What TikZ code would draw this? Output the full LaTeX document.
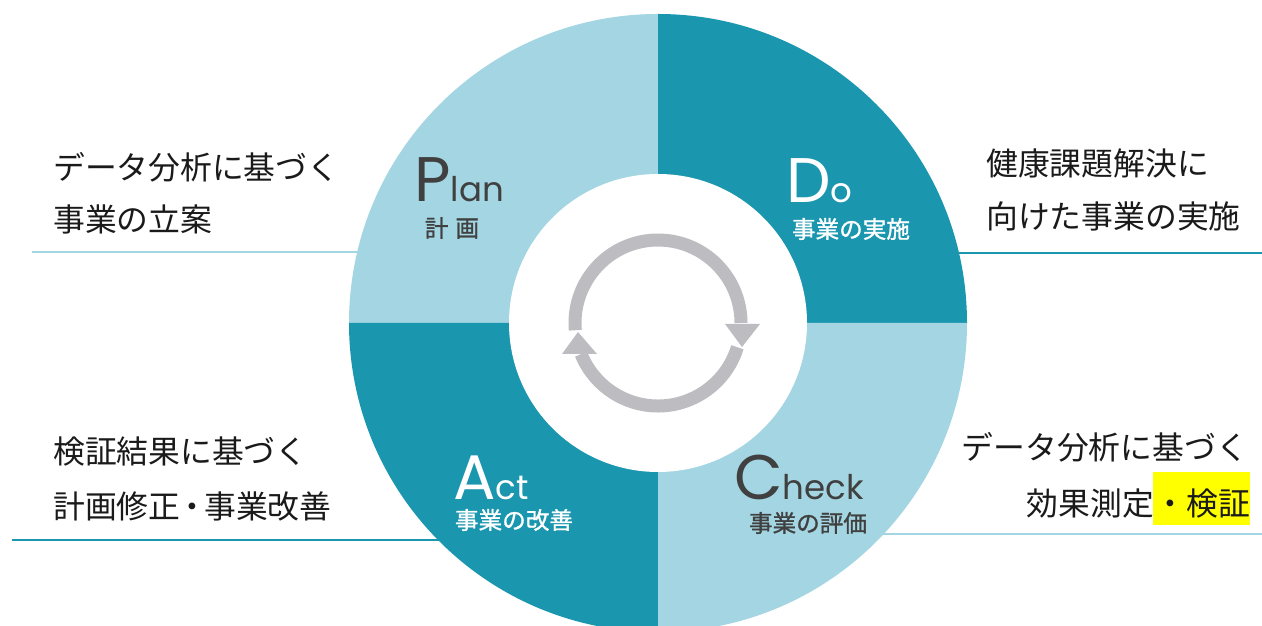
\documentclass[tikz,border=0pt]{standalone}
\usepackage{fontspec}
\newfontfamily\jp{Noto Sans CJK JP}
\newfontfamily\jpm[FakeBold=1.2]{Noto Sans CJK JP}
\newfontfamily\lat{Poppins}
\definecolor{lightring}{HTML}{A3D6E2}
\definecolor{darkring}{HTML}{1B96AF}
\definecolor{cyclegray}{HTML}{BDBCC1}
\definecolor{labelgray}{HTML}{404040}
\definecolor{outertext}{HTML}{1A1A1A}
\definecolor{hilite}{HTML}{FFFF00}
\tikzset{
  outer/.style={inner sep=0pt, text=outertext, font=\jp\fontsize{31.8}{31.8}\selectfont},
  sublabel/.style={inner sep=0pt, font=\jpm\fontsize{23.6}{23.6}\selectfont},
  biglabel/.style={inner sep=0pt, anchor=base west, text depth=0pt, text height=44pt},
  guide/.style={line width=1.3pt},
  band/.style={cyclegray, line width=13pt, line cap=butt},
}
\newcommand{\pdcaword}[2]{{\lat\fontsize{63}{63}\selectfont #1}{\lat\fontsize{34}{34}\selectfont #2}}
\begin{document}
\begin{tikzpicture}[x=1pt,y=1pt]
\useasboundingbox (0,0) rectangle (1262,626);
\clip (0,0) rectangle (1262,626);
\fill[white] (0,0) rectangle (1262,626);
\coordinate (C) at (658,303);
% guide lines (behind ring)
\coordinate (g1a) at (32,374);  \coordinate (g1b) at (420,374);
\coordinate (g2a) at (900,373); \coordinate (g2b) at (1262,373);
\coordinate (g3a) at (12,86);   \coordinate (g3b) at (500,86);
\coordinate (g4a) at (800,92);  \coordinate (g4b) at (1262,92);
\draw[guide, lightring] (g1a) -- (g1b);
\draw[guide, darkring] (g2a) -- (g2b);
\draw[guide, darkring] (g3a) -- (g3b);
\draw[guide, lightring] (g4a) -- (g4b);
% ring quadrants
\fill[lightring] (C) -- ([shift={(90:309pt)}]C) arc[start angle=90,end angle=180,radius=309pt] -- cycle;
\fill[darkring] (C) -- ([shift={(0:309pt)}]C) arc[start angle=0,end angle=90,radius=309pt] -- cycle;
\fill[darkring] (C) -- ([shift={(180:309pt)}]C) arc[start angle=180,end angle=270,radius=309pt] -- cycle;
\fill[lightring] (C) -- ([shift={(270:309pt)}]C) arc[start angle=270,end angle=360,radius=309pt] -- cycle;
\fill[white] (C) circle[radius=149pt];
% cycle arrows
\draw[band] ([shift={(185:83pt)}]C) arc[start angle=185,end angle=0,radius=83pt];
\fill[cyclegray] (725,302) -- (760,302) -- (742,279) -- cycle;
\draw[band] ([shift={(-17:83pt)}]C) arc[start angle=-17,end angle=-158,radius=83pt];
\fill[cyclegray] (562,272) -- (597,272) -- (578,294) -- cycle;
% ring labels
\node[biglabel, text=labelgray] (plan) at (414,424) {\pdcaword{P}{lan}};
\node[sublabel, text=labelgray] (plansub) at (452,398) {計\hspace{7pt}画};
\node[biglabel, text=white] (do) at (786,423) {\pdcaword{D}{o}};
\node[sublabel, text=white] (dosub) at (851,397) {事業の実施};
\node[biglabel, text=white] (act) at (453,126) {\pdcaword{A}{ct}};
\node[sublabel, text=white] (actsub) at (514,106) {事業の改善};
\node[biglabel, text=labelgray] (check) at (734,126) {\pdcaword{C}{heck}};
\node[sublabel, text=labelgray] (checksub) at (808,103) {事業の評価};
% outer texts
\node[outer, anchor=west] (l1a) at (53,459) {データ分析に基づく};
\node[outer, anchor=west] (l1b) at (53,407) {事業の立案};
\node[outer, anchor=west] (r1a) at (986,463) {健康課題解決に};
\node[outer, anchor=west] (r1b) at (986,410) {向けた事業の実施};
\node[outer, anchor=west] (l2a) at (53,174) {検証結果に基づく};
\node[outer, anchor=west] (l2b) at (53,120) {計画修正\hspace{-4pt}・\hspace{-4pt}事業改善};
\node[outer, anchor=east] (r2a) at (1248,179) {データ分析に基づく};
\fill[hilite] (1153,101) rectangle (1250,154);
\node[outer, anchor=east] (r2c) at (1250,123) {・検証};
\node[outer, anchor=east] (r2b) at (r2c.west) {効果測定};
\end{tikzpicture}
\end{document}
